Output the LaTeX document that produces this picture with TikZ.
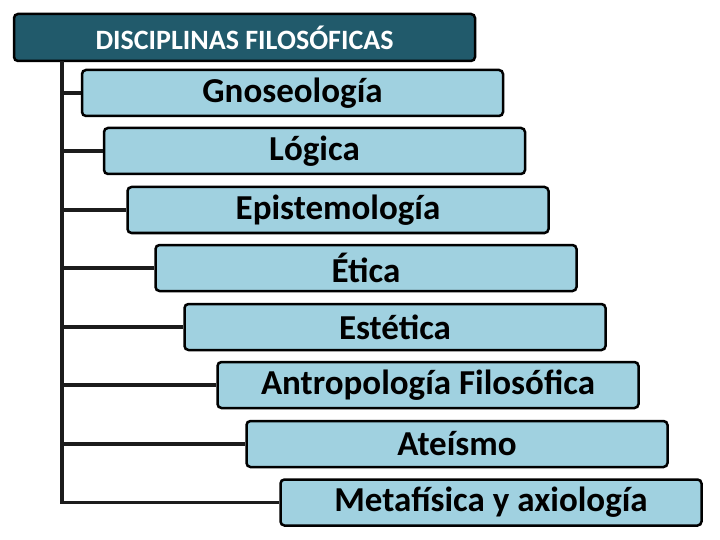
\documentclass[tikz,border=0pt]{standalone}
\usepackage{fontspec}
\setmainfont{Carlito}
\usetikzlibrary{positioning}
\definecolor{headteal}{HTML}{215A6B}
\definecolor{itemblue}{HTML}{A0D1E0}
\definecolor{linegray}{HTML}{1C1C1C}
\tikzset{
        treenode/.style={align=center,inner sep=0pt,rounded corners=4pt,line width=2.5pt,draw=black},
        % Header node
        node_header/.style={treenode, fill=headteal, text=white, minimum width=461pt, minimum height=47pt, font=\bfseries\fontsize{28}{30}\selectfont},
        % Discipline nodes
        node_item/.style={treenode, fill=itemblue, text=black, minimum width=421pt, minimum height=46pt, font=\bfseries\fontsize{35}{38}\selectfont},
        % Connector lines
        link/.style={draw=linegray, line width=3.5pt}
}

\begin{document}
\begin{tikzpicture}[x=1pt,y=-1pt]
            \useasboundingbox (0,0) rectangle (720,540);
            \coordinate (trunk) at (62,61);
            \node[node_header] (hdr) at (244.5,37.5) {DISCIPLINAS FILOSÓFICAS};
            \node[node_item] (gno) at (292.5,93) {Gnoseología};
            \node[node_item] (log) at (314.5,151) {Lógica};
            \node[node_item] (epi) at (338,210) {Epistemología};
            \node[node_item] (eti) at (366,268) {Ética};
            \node[node_item] (est) at (395,327) {Estética};
            \node[node_item] (ant) at (428,385) {Antropología Filosófica};
            \node[node_item] (ate) at (457,444) {Ateísmo};
            \node[node_item] (met) at (491,502.5) {Metafísica y axiología};
            % trunk and branches
            \draw[link] (trunk) |- (met.west);
            \draw[link] (trunk |- gno.west) -- (gno.west);
            \draw[link] (trunk |- log.west) -- (log.west);
            \draw[link] (trunk |- epi.west) -- (epi.west);
            \draw[link] (trunk |- eti.west) -- (eti.west);
            \draw[link] (trunk |- est.west) -- (est.west);
            \draw[link] (trunk |- ant.west) -- (ant.west);
            \draw[link] (trunk |- ate.west) -- (ate.west);
        \end{tikzpicture}
\end{document}
